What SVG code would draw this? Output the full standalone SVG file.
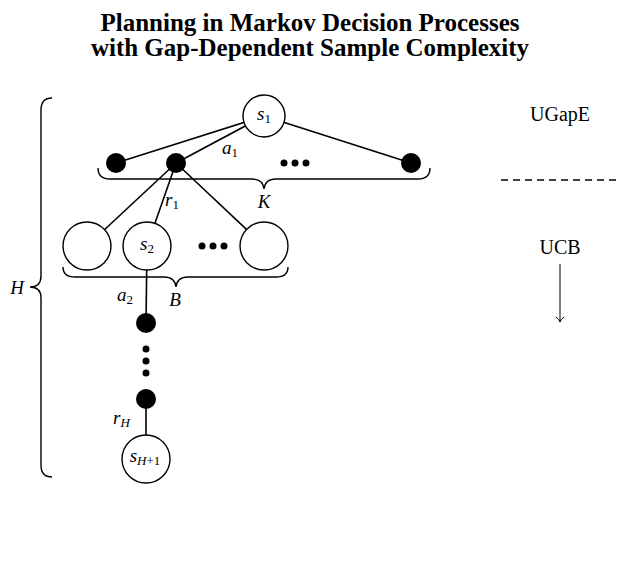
<svg xmlns="http://www.w3.org/2000/svg" width="633" height="561" viewBox="0 0 633 561">
<style>
.title{font-family:"Liberation Serif",serif;font-weight:bold;font-size:25px;fill:#000}
.m{font-family:"Liberation Serif",serif;font-style:italic;font-size:19px;fill:#000}
.sub{font-size:13px;font-style:normal}
.subi{font-size:13px}
.lbl{font-family:"Liberation Serif",serif;font-size:20px;fill:#000}
.edge{stroke:#000;stroke-width:1.6;fill:none}
.brace{stroke:#000;stroke-width:1.4;fill:none}
.st{fill:#fff;stroke:#000;stroke-width:1.4}
.act{fill:#000}
</style>
<defs>
<marker id="arr" markerWidth="10" markerHeight="10" refX="9" refY="5" orient="auto" markerUnits="userSpaceOnUse">
<path d="M4,1 Q6,4 9,5 Q6,6 4,9" fill="none" stroke="#000" stroke-width="1"/>
</marker>
</defs>
<rect width="633" height="561" fill="#fff"/>
<g id="title">
<text class="title" x="310" y="31" text-anchor="middle">Planning in Markov Decision Processes</text>
<text class="title" x="310" y="56" text-anchor="middle">with Gap-Dependent Sample Complexity</text>
</g>
<g id="connectors">
<line class="edge" x1="264" y1="116" x2="116" y2="163"/>
<line class="edge" x1="264" y1="116" x2="176" y2="163"/>
<line class="edge" x1="264" y1="116" x2="411" y2="163"/>
<line class="edge" x1="176" y1="163" x2="87" y2="246"/>
<line class="edge" x1="176" y1="163" x2="147" y2="246"/>
<line class="edge" x1="176" y1="163" x2="264" y2="246"/>
<line class="edge" x1="147" y1="246" x2="146" y2="323"/>
<line class="edge" x1="146" y1="399" x2="146" y2="459"/>
<line stroke="#000" stroke-width="1.4" stroke-dasharray="7,5" x1="501" y1="180" x2="621" y2="180"/>
<line stroke="#000" stroke-width="1" x1="560" y1="264" x2="560" y2="322" marker-end="url(#arr)"/>
</g>
<g id="braces">
<path class="brace" d="M98,168 Q98,179 110,179 L252,179 Q263,179 264,189 Q265,179 276,179 L418,179 Q430,179 430,168"/>
<path class="brace" d="M63,267 Q63,277 75,277 L164,277 Q175,277 176,287 Q177,277 188,277 L276,277 Q288,277 288,267"/>
<path class="brace" d="M52,98 Q41,98 41,110 L41,276 Q41,287 30,287 Q41,287 41,298 L41,465 Q41,477 52,477"/>
</g>
<g id="s1"><circle class="st" cx="264" cy="116" r="21"/><text class="m" x="264" y="120" text-anchor="middle">s<tspan class="sub" dy="3">1</tspan></text></g>
<g id="a_left"><circle class="act" cx="116" cy="163" r="10"/></g>
<g id="a1"><circle class="act" cx="176" cy="163" r="10"/></g>
<g id="a_right"><circle class="act" cx="411" cy="163" r="10"/></g>
<g id="dots1"><circle class="act" cx="284" cy="163" r="3.5"/><circle class="act" cx="295" cy="163" r="3.5"/><circle class="act" cx="306" cy="163" r="3.5"/></g>
<g id="n_left"><circle class="st" cx="87" cy="246" r="24"/></g>
<g id="s2"><circle class="st" cx="147" cy="246" r="24"/><text class="m" x="147" y="250" text-anchor="middle">s<tspan class="sub" dy="3">2</tspan></text></g>
<g id="dots2"><circle class="act" cx="202" cy="246" r="3.5"/><circle class="act" cx="213" cy="246" r="3.5"/><circle class="act" cx="224" cy="246" r="3.5"/></g>
<g id="n_right"><circle class="st" cx="264" cy="246" r="24"/></g>
<g id="a2"><circle class="act" cx="146" cy="323" r="10"/></g>
<g id="vdots"><circle class="act" cx="146" cy="349" r="3.5"/><circle class="act" cx="146" cy="361" r="3.5"/><circle class="act" cx="146" cy="373" r="3.5"/></g>
<g id="aH"><circle class="act" cx="146" cy="399" r="10"/></g>
<g id="sH1"><circle class="st" cx="146" cy="459" r="24"/><text class="m" x="145" y="462" text-anchor="middle">s<tspan class="subi" dy="3">H</tspan><tspan class="sub">+1</tspan></text></g>
<g id="labels">
<text class="m" x="222" y="154">a<tspan class="sub" dy="3">1</tspan></text>
<text class="m" x="165" y="206">r<tspan class="sub" dy="3">1</tspan></text>
<text class="m" x="264" y="208" text-anchor="middle">K</text>
<text class="m" x="117" y="301">a<tspan class="sub" dy="3">2</tspan></text>
<text class="m" x="175" y="306" text-anchor="middle">B</text>
<text class="m" x="113" y="424">r<tspan class="subi" dy="3">H</tspan></text>
<text class="m" x="17" y="294" text-anchor="middle">H</text>
<text class="lbl" x="560" y="121" text-anchor="middle">UGapE</text>
<text class="lbl" x="560" y="254" text-anchor="middle">UCB</text>
</g>
</svg>
